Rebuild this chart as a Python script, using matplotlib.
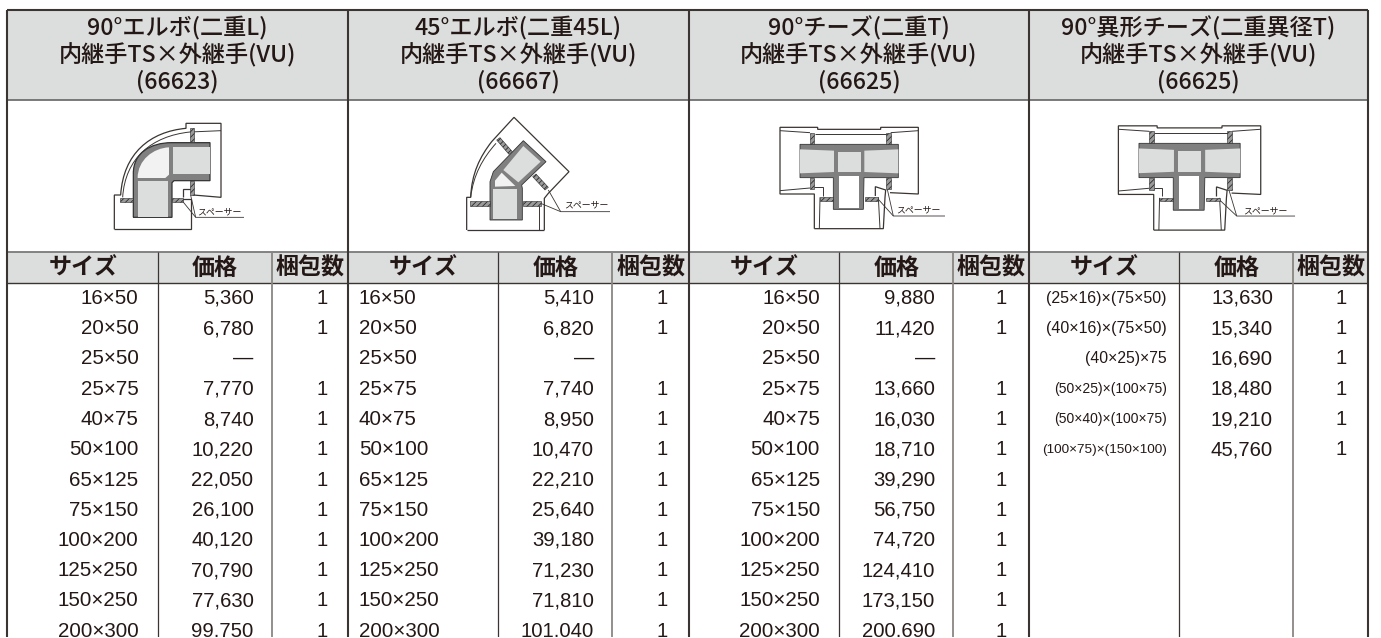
import matplotlib
matplotlib.use("Agg")
import matplotlib.pyplot as plt
from matplotlib.path import Path
from matplotlib.patches import PathPatch, Polygon, Rectangle

plt.rcParams['hatch.linewidth'] = 0.6

titles = [
    ["90°エルボ(二重L)", "内継手TS×外継手(VU)", "(66623)"],
    ["45°エルボ(二重45L)", "内継手TS×外継手(VU)", "(66667)"],
    ["90°チーズ(二重T)", "内継手TS×外継手(VU)", "(66625)"],
    ["90°異形チーズ(二重異径T)", "内継手TS×外継手(VU)", "(66625)"],
]
col_heads = ["サイズ", "価格", "梱包数"]
sizes = ["16×50", "20×50", "25×50", "25×75", "40×75", "50×100", "65×125",
         "75×150", "100×200", "125×250", "150×250", "200×300"]
sizes4 = ["(25×16)×(75×50)", "(40×16)×(75×50)", "(40×25)×75",
          "(50×25)×(100×75)", "(50×40)×(100×75)", "(100×75)×(150×100)"]
price1 = ["5,360", "6,780", "—", "7,770", "8,740", "10,220", "22,050", "26,100",
          "40,120", "70,790", "77,630", "99,750"]
price2 = ["5,410", "6,820", "—", "7,740", "8,950", "10,470", "22,210", "25,640",
          "39,180", "71,230", "71,810", "101,040"]
price3 = ["9,880", "11,420", "—", "13,660", "16,030", "18,710", "39,290", "56,750",
          "74,720", "124,410", "173,150", "200,690"]
price4 = ["13,630", "15,340", "16,690", "18,480", "19,210", "45,760"]
pack1 = ["1", "1", "", "1", "1", "1", "1", "1", "1", "1", "1", "1"]
pack4 = ["1", "1", "1", "1", "1", "1"]

INK = "#231815"
LINE = "#3a3532"
GREY = "#dcdddd"
PIPE = "#808080"
SANS = "Liberation Sans"
CJK = "Noto Sans CJK JP"

W, H = 1381, 638
fig = plt.figure(figsize=(W / 100, H / 100), dpi=100, facecolor="white")
ax = fig.add_axes([0, 0, 1, 1])
ax.set_xlim(0, W)
ax.set_ylim(H, 0)
ax.axis("off")

left = [7.5, 348, 689, 1029]
right = 1368
T, H1, H2, H3 = 10, 100, 252, 283
sub1, sub2 = 150.5, 264.5
BOTTOM = 636.5

ax.add_patch(Rectangle((left[0], T), right - left[0], H1 - T, fc=GREY, ec="none"))
ax.add_patch(Rectangle((left[0], H2), right - left[0], H3 - H2, fc=GREY, ec="none"))

def hl(y, c, lw):
    ax.plot([left[0], right], [y, y], color=c, lw=lw, solid_capstyle="butt", zorder=3)
hl(T, LINE, 1.5)
hl(H1, "#6f6f6f", 1.3)
hl(H2, "#7a7a7a", 1.3)
hl(H3, LINE, 1.0)
for x in left + [right]:
    ax.plot([x, x], [T, H], color=LINE, lw=1.5, solid_capstyle="butt", zorder=3)
for x in left:
    ax.plot([x + sub1] * 2, [H2, H], color=LINE, lw=0.9, solid_capstyle="butt", zorder=3)
    ax.plot([x + sub2] * 2, [H2, H], color="#8a8682", lw=1.3, solid_capstyle="butt", zorder=3)

line_y = [28, 55.5, 82]
for x0, nxt, t in zip(left, left[1:] + [right], titles):
    cx = (x0 + nxt) / 2
    for y, s in zip(line_y, t):
        ax.text(cx, y, s, ha="center", va="center", fontsize=16.7, color=INK,
                family=[CJK, "DejaVu Sans"], fontweight="medium")
    for off0, off1, s in zip([0, sub1, sub2], [sub1, sub2, nxt - x0], col_heads):
        ax.text(x0 + (off0 + off1) / 2, H2 + 16, s, ha="center", va="center",
                fontsize=16.6, color=INK, family=[CJK, "DejaVu Sans"], fontweight="bold")

row_y = [298.5 + 30.25 * i for i in range(12)]

def body(x0, names, prices, packs, name_x, name_ha, price_x, pack_x, sizes_pt):
    for y, n, p, k, fs in zip(row_y, names, prices, packs, sizes_pt):
        ax.text(x0 + name_x, y, n, ha=name_ha, va="center", fontsize=fs, color=INK, family=SANS)
        ax.text(x0 + price_x, y - (1 if p == "—" else 0), p, ha="right", va="center",
                fontsize=14.6, color=INK, family=SANS)
        ax.text(x0 + pack_x, y, k, ha="right", va="center", fontsize=14.6, color=INK, family=SANS)

body(left[0], sizes, price1, pack1, 131, "right", 246, 320, [14.8] * 12)
body(left[1], sizes, price2, pack1, 11, "left", 246, 320, [14.8] * 12)
body(left[2], sizes, price3, pack1, 131, "right", 246, 318, [14.8] * 12)
body(left[3], sizes4, price4, pack4, 138, "right", 244, 318, [11.5, 11.5, 11.3, 10, 10, 9.7])

def tf(ox, oy, s=1 / 3):
    return lambda pts: [(ox + x * s, oy + y * s) for x, y in pts]

def line(m, pts, c=LINE, lw=0.9, z=5):
    q = m(pts)
    ax.plot([a for a, _ in q], [b for _, b in q], color=c, lw=lw, zorder=z,
            solid_capstyle="butt", solid_joinstyle="miter")

def poly(m, pts, fc, ec="none", lw=0.6, z=4, hatch=None):
    ax.add_patch(Polygon(m(pts), closed=True, fc=fc, ec=ec, lw=lw, zorder=z, hatch=hatch))

def bez(m, pts, codes, fc="none", ec=LINE, lw=0.9, z=5):
    ax.add_patch(PathPatch(Path(m(pts), codes), fc=fc, ec=ec, lw=lw, zorder=z))

def spacer(m, pts):
    poly(m, pts, "#9a9a9a", ec="#2a2a2a", lw=0.4, z=6, hatch="//////")

def label(m, p, fs=6.4):
    x, y = m([p])[0]
    ax.text(x, y, "スペーサー", ha="left", va="center", fontsize=fs, color=INK,
            family=[CJK, "DejaVu Sans"], zorder=7)

M, L, C = Path.MOVETO, Path.LINETO, Path.CURVE4

# --- 90 elbow
m = tf(100, 110)
bez(m, [(43, 358), (43, 255), (62, 255), (70, 130), (150, 65), (258, 55), (258, 40), (363, 40),
        (363, 262), (280, 255)], [M, L, L, C, C, C, L, L, L, L])
bez(m, [(68, 262), (75, 145), (155, 78), (270, 66), (363, 62)], [M, C, C, C, L], lw=0.7)
line(m, [(248, 262), (248, 238), (272, 238)])
line(m, [(43, 358), (272, 358), (272, 268), (240, 268)])
bez(m, [(100, 322), (100, 190), (100, 130), (150, 98), (215, 98), (330, 98), (330, 212),
        (222, 212), (216, 218), (216, 322), (100, 322)],
    [M, L, C, C, C, L, L, L, L, L, L], fc=PIPE, ec="#333333")
poly(m, [(113, 212), (205, 212), (205, 320), (113, 320)], GREY, z=6)
poly(m, [(218, 112), (330, 112), (330, 192), (218, 192)], GREY, z=6)
bez(m, [(113, 204), (113, 150), (160, 114), (207, 112), (207, 194), (196, 204), (113, 204)],
    [M, C, C, C, L, L, L], fc="#f2f2f2", ec="none", z=6)
spacer(m, [(270, 53), (283, 53), (283, 96), (270, 96)])
spacer(m, [(270, 212), (283, 212), (283, 255), (270, 255)])
spacer(m, [(60, 264), (100, 264), (100, 275), (60, 275)])
spacer(m, [(217, 264), (248, 264), (248, 275), (217, 275)])
line(m, [(243, 268), (287, 322), (432, 322)], lw=0.6)
line(m, [(272, 256), (287, 322)], lw=0.6)
label(m, (290, 305))

# --- 45 elbow
m = tf(440, 110)
bez(m, [(80, 360), (80, 262), (92, 262), (95, 190), (120, 140), (155, 95), (222, 22), (387, 185),
        (325, 250), (313, 265), (313, 360)], [M, L, L, C, C, C, L, L, L, L, L])
bez(m, [(92, 262), (100, 195), (128, 145), (168, 100)], [M, C, C, C], lw=0.7)
line(m, [(80, 360), (313, 360)])
line(m, [(298, 360), (298, 280)], lw=0.7)
poly(m, [(150, 330), (150, 215), (160, 185), (250, 92), (318, 155), (245, 225), (247, 235),
         (247, 330)], PIPE, ec="#333333", z=4)
poly(m, [(190, 180), (250, 108), (302, 155), (235, 217)], GREY, z=6)
poly(m, [(160, 238), (232, 238), (232, 328), (160, 328)], GREY, z=6)
poly(m, [(165, 230), (165, 212), (185, 188), (226, 228)], "#f2f2f2", z=6)
spacer(m, [(170, 90), (180, 83), (217, 125), (207, 133)])
spacer(m, [(278, 200), (288, 192), (325, 232), (315, 240)])
spacer(m, [(90, 272), (150, 272), (150, 288), (90, 288)])
spacer(m, [(248, 272), (302, 272), (302, 288), (248, 288)])
line(m, [(325, 240), (362, 305), (510, 305)], lw=0.6)
line(m, [(302, 280), (362, 305)], lw=0.6)
label(m, (372, 285))

# --- tees
def tee(m, text_at, corner, tail):
    line(m, [(133, 356), (133, 252), (30, 252), (30, 52), (143, 52), (143, 58), (332, 58), (332, 52),
             (445, 52), (445, 252), (360, 248)])
    line(m, [(30, 62), (120, 68)], lw=0.7)
    line(m, [(30, 242), (120, 234)], lw=0.7)
    line(m, [(445, 62), (362, 68)], lw=0.7)
    line(m, [(135, 72), (350, 72)], lw=0.7)
    line(m, [(133, 356), (340, 356), (345, 262), (347, 240), (316, 230), (316, 258)])
    line(m, [(133, 232), (158, 232), (158, 258)], lw=0.7)
    line(m, [(150, 262), (148, 356)], lw=0.7)
    line(m, [(325, 262), (330, 356)], lw=0.7)
    poly(m, [(90, 103), (385, 103), (385, 203), (282, 203), (280, 298), (190, 298), (190, 203),
             (90, 203)], PIPE, ec="#333333", z=4)
    poly(m, [(90, 118), (192, 122), (192, 186), (90, 190)], GREY, z=6)
    poly(m, [(205, 125), (272, 125), (272, 186), (205, 186)], GREY, z=6)
    poly(m, [(283, 122), (385, 118), (385, 190), (283, 186)], GREY, z=6)
    poly(m, [(206, 197), (266, 197), (266, 295), (206, 295)], "white", z=6)
    spacer(m, [(120, 68), (133, 68), (133, 103), (120, 103)])
    spacer(m, [(120, 203), (133, 203), (133, 238), (120, 238)])
    spacer(m, [(348, 68), (362, 68), (362, 103), (348, 103)])
    spacer(m, [(348, 203), (362, 203), (362, 238), (348, 238)])
    spacer(m, [(150, 262), (190, 262), (190, 272), (150, 272)])
    spacer(m, [(285, 262), (325, 262), (325, 272), (285, 272)])
    line(m, [(325, 268), corner, tail], lw=0.6)
    line(m, [(352, 238), corner], lw=0.6)
    label(m, text_at)

tee(tf(770, 110), (378, 300), (370, 318), (525, 318))
tee(tf(1108.1, 108, 0.343), (394, 301), (375, 315), (545, 315))

ax.add_patch(Rectangle((0, BOTTOM), W, H - BOTTOM, fc="white", ec="none", zorder=20))

fig.savefig("out.png", dpi=100)
